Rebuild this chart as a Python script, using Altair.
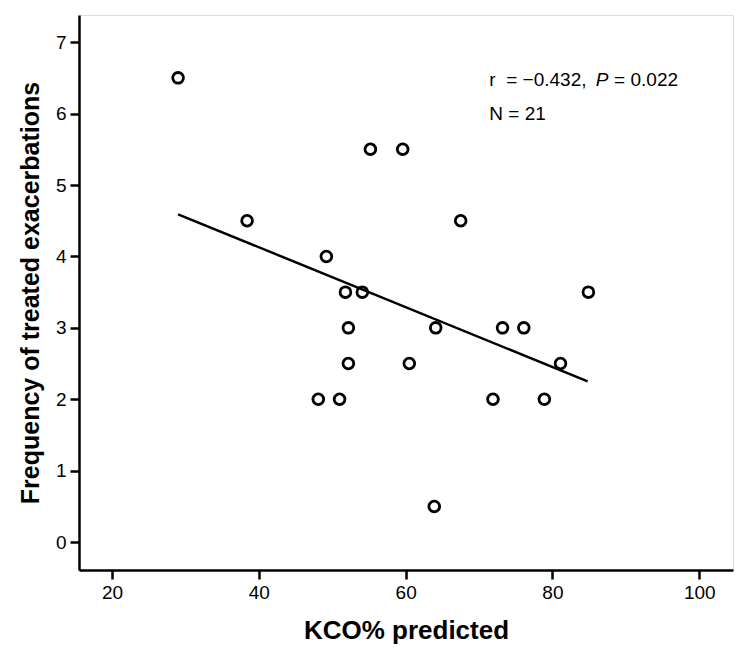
import altair as alt
import pandas as pd

# Data
kco = [29.0, 38.4, 55.2, 59.6, 67.5, 49.2, 51.8, 54.1, 84.9, 52.2, 64.1,
       73.2, 76.1, 52.2, 60.5, 81.1, 48.1, 51.0, 71.9, 78.9, 63.9]
freq = [6.5, 4.5, 5.5, 5.5, 4.5, 4.0, 3.5, 3.5, 3.5, 3.0, 3.0,
        3.0, 3.0, 2.5, 2.5, 2.5, 2.0, 2.0, 2.0, 2.0, 0.5]

fit_x = [29.0, 84.8]
fit_y = [4.59, 2.25]

x_ticks = [20, 40, 60, 80, 100]
y_ticks = [0, 1, 2, 3, 4, 5, 6, 7]

ann_text = ["r\u00a0 = \u22120.432,", "P", "= 0.022", "N = 21"]
ann_x = [71.4, 85.9, 88.4, 71.4]
ann_y = [6.47, 6.47, 6.47, 5.99]
ann_style = ["normal", "italic", "normal", "normal"]

FONT = "Liberation Sans"
X_DOMAIN = [15.5, 104.6]
Y_DOMAIN = [-0.39, 7.38]

pts = pd.DataFrame({"kco": kco, "freq": freq})
fit = pd.DataFrame({"kco": fit_x, "freq": fit_y})
ann = pd.DataFrame({"kco": ann_x, "freq": ann_y, "t": ann_text, "s": ann_style})

xs = alt.Scale(domain=X_DOMAIN, nice=False, zero=False)
ys = alt.Scale(domain=Y_DOMAIN, nice=False, zero=False)

x_axis = alt.Axis(values=x_ticks, format="d", title="KCO% predicted", grid=False,
                  domainWidth=2.5, domainColor="black", tickWidth=2.5, tickColor="black",
                  tickSize=9, labelFontSize=19, labelFont=FONT, labelColor="black",
                  labelPadding=4, titleFontSize=26, titleFont=FONT, titleFontWeight="bold",
                  titleColor="black", titlePadding=15)
y_axis = alt.Axis(values=y_ticks, format="d", title="Frequency of treated exacerbations",
                  grid=False,
                  domainWidth=2.5, domainColor="black", tickWidth=2.5, tickColor="black",
                  tickSize=9, labelFontSize=19, labelFont=FONT, labelColor="black",
                  labelPadding=4, titleFontSize=25, titleFont=FONT, titleFontWeight="bold",
                  titleColor="black", titlePadding=12)

points = alt.Chart(pts).mark_point(
    shape="circle", filled=False, size=115, strokeWidth=2.8, color="black", opacity=1
).encode(
    x=alt.X("kco:Q", scale=xs, axis=x_axis),
    y=alt.Y("freq:Q", scale=ys, axis=y_axis),
)

line = alt.Chart(fit).mark_line(color="black", strokeWidth=2.5).encode(
    x=alt.X("kco:Q", scale=xs),
    y=alt.Y("freq:Q", scale=ys),
)

def ann_layer(style):
    return alt.Chart(ann).transform_filter(alt.datum.s == style).mark_text(
        align="left", baseline="middle", fontSize=19, font=FONT, color="black",
        fontStyle=style
    ).encode(
        x=alt.X("kco:Q", scale=xs),
        y=alt.Y("freq:Q", scale=ys),
        text="t:N",
    )

chart = alt.layer(line, points, ann_layer("normal"), ann_layer("italic")).properties(
    width=654, height=555,
    autosize=alt.AutoSizeParams(type="none"),
    padding={"left": 71, "top": 7, "right": 7, "bottom": 84},
).configure_view(stroke=None).configure(background="white")

chart.save("out.html", embed_options={"renderer": "svg", "actions": False})
